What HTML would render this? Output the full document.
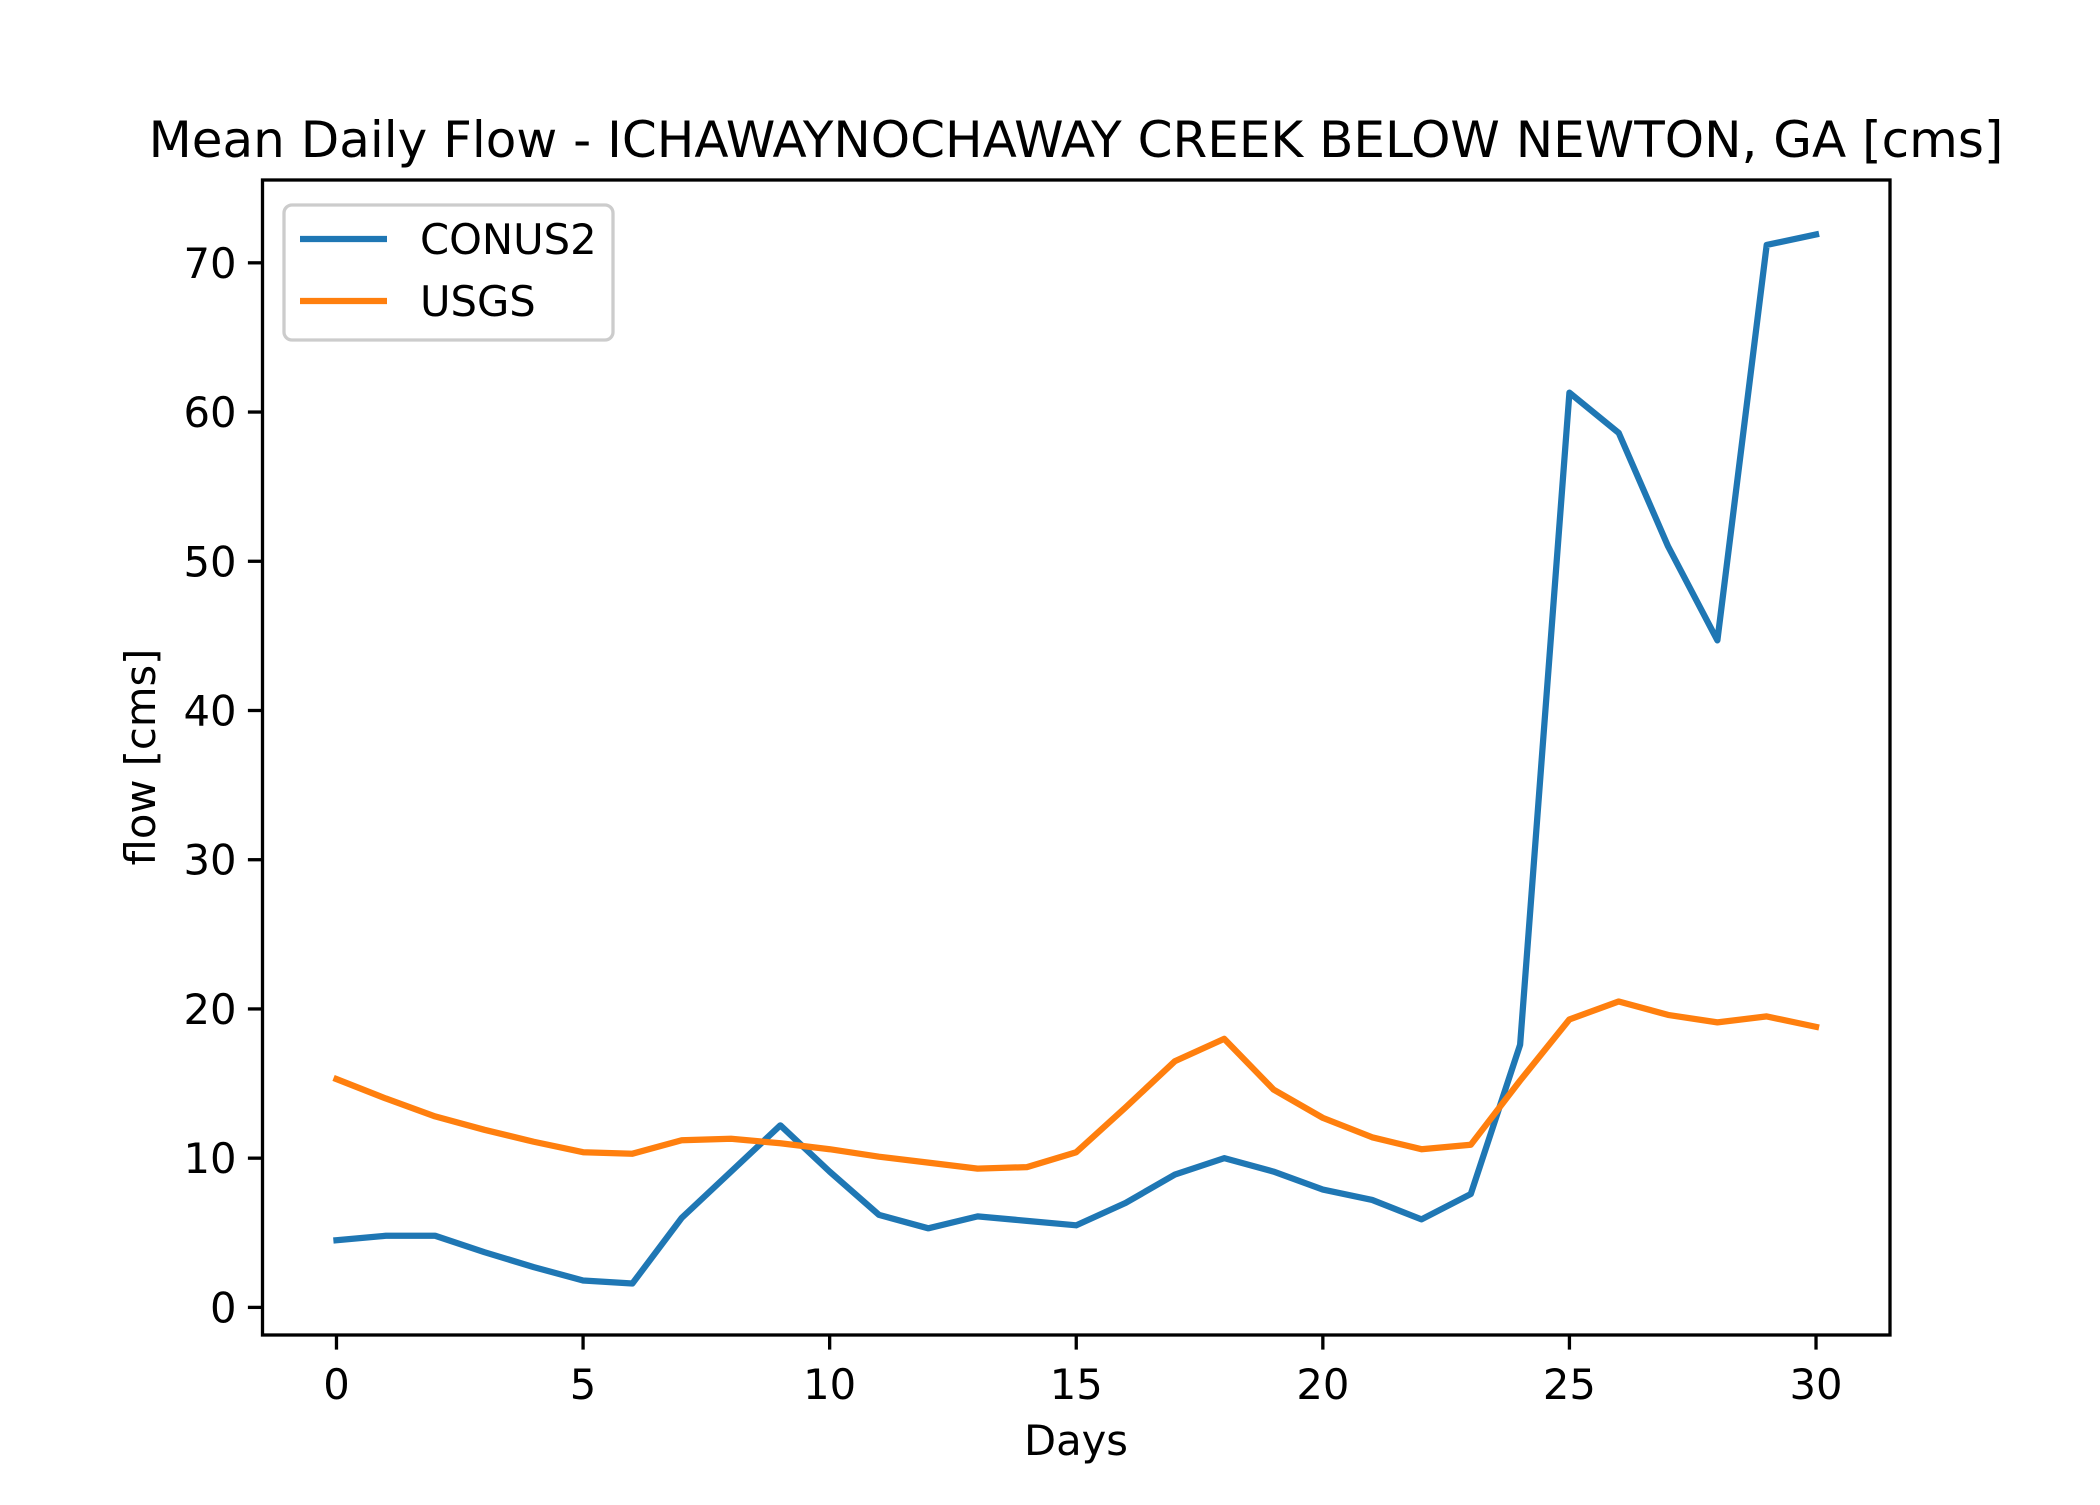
<!DOCTYPE html>
<html><head><meta charset="utf-8"><style>html,body{margin:0;padding:0;background:#fff}svg text{font-family:"DejaVu Sans","Liberation Sans",sans-serif;fill:#000}</style></head>
<body>
<svg id="chart" width="2100" height="1500" viewBox="0 0 2100 1500" xmlns="http://www.w3.org/2000/svg">
<rect width="2100" height="1500" fill="#fff"/>
<text x="1076" y="157" font-size="50" text-anchor="middle">Mean Daily Flow - ICHAWAYNOCHAWAY CREEK BELOW NEWTON, GA [cms]</text>
<g id="ticks"></g>
<g id="lines"></g>
<rect x="262.5" y="180" width="1627.5" height="1155" fill="none" stroke="#000" stroke-width="3.3"/>
<text x="1076" y="1455" font-size="41.7" text-anchor="middle">Days</text>
<text transform="translate(155,757) rotate(-90)" font-size="41.7" text-anchor="middle">flow [cms]</text>
<g>
<rect x="284" y="205" width="329" height="135" rx="8" fill="#fff" fill-opacity="0.8" stroke="#ccc" stroke-width="3.3"/>
<line x1="300" y1="239" x2="387" y2="239" stroke="#1f77b4" stroke-width="6.25"/>
<text x="420" y="254" font-size="41.7">CONUS2</text>
<line x1="300" y1="301" x2="387" y2="301" stroke="#ff7f0e" stroke-width="6.25"/>
<text x="420" y="316" font-size="41.7">USGS</text>
</g>
</svg>
<script>
const days=[0,1,2,3,4,5,6,7,8,9,10,11,12,13,14,15,16,17,18,19,20,21,22,23,24,25,26,27,28,29,30];
const conus2=[4.5,4.8,4.8,3.7,2.7,1.8,1.6,6.0,9.1,12.2,9.1,6.2,5.3,6.1,5.8,5.5,7.0,8.9,10.0,9.1,7.9,7.2,5.9,7.6,17.6,61.3,58.6,51.0,44.7,71.2,71.9];
const usgs=[15.3,14.0,12.8,11.9,11.1,10.4,10.3,11.2,11.3,11.0,10.6,10.1,9.7,9.3,9.4,10.4,13.4,16.5,18.0,14.6,12.7,11.4,10.6,10.9,15.2,19.3,20.5,19.6,19.1,19.5,18.8];
const xTicks=[0,5,10,15,20,25,30];
const yTicks=[0,10,20,30,40,50,60,70];
const NS="http://www.w3.org/2000/svg";
const L=262.5,R=1890,T=180,B=1335;
const xMin=-1.5,xMax=31.5,yMin=-1.85,yMax=75.55;
const xs=v=>L+(v-xMin)/(xMax-xMin)*(R-L);
const ys=v=>B-(v-yMin)/(yMax-yMin)*(B-T);
function mk(tag,attrs,parent){const e=document.createElementNS(NS,tag);for(const k in attrs)e.setAttribute(k,attrs[k]);parent.appendChild(e);return e;}
const tg=document.getElementById('ticks');
xTicks.forEach(t=>{
 const l=mk('line',{x1:xs(t),x2:xs(t),y1:B,y2:B+14.6,stroke:'#000','stroke-width':3.3},tg);
 
 
 const tx=mk('text',{x:xs(t),y:B+64,'font-size':41.7,'text-anchor':'middle'},tg);tx.textContent=t;
 
 
});
yTicks.forEach(t=>{
 const l=mk('line',{x1:L-14.6,x2:L,y1:ys(t),y2:ys(t),stroke:'#000','stroke-width':3.3},tg);
 
 
 const tx=mk('text',{x:L-26,y:ys(t)+15,'font-size':41.7,'text-anchor':'end'},tg);tx.textContent=t;
 
 
});
const lg=document.getElementById('lines');
[[conus2,'#1f77b4','conus2-line'],[usgs,'#ff7f0e','usgs-line']].forEach(([d,c,n])=>{
 const p=mk('polyline',{points:d.map((v,i)=>xs(days[i])+','+ys(v)).join(' '),fill:'none',stroke:c,'stroke-width':6.25,'stroke-linejoin':'round','stroke-linecap':'square'},lg);
 
 
});
</script>
</body></html>
